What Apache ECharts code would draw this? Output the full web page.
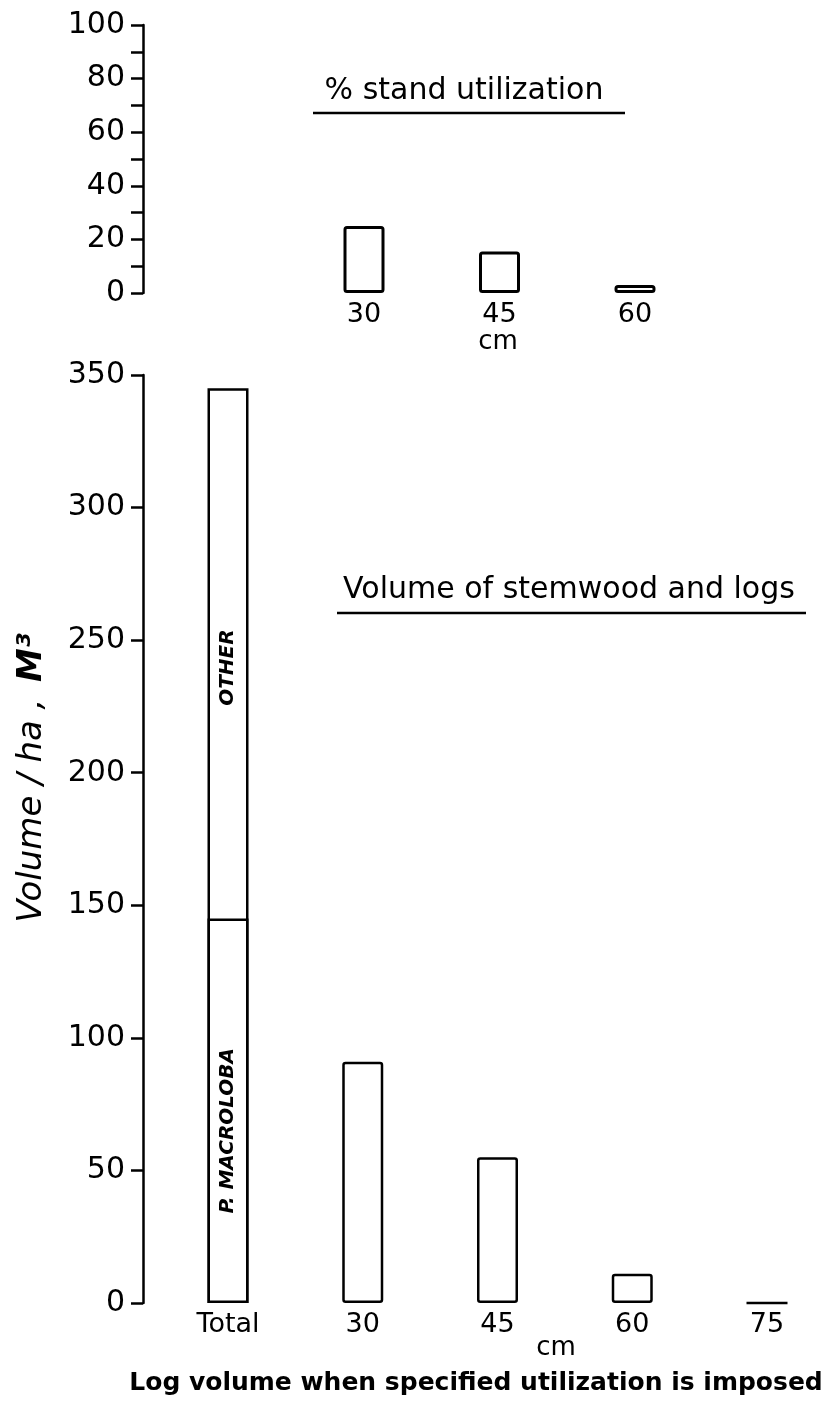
<!DOCTYPE html>
<html>
<head>
<meta charset="utf-8">
<script src="https://cdn.jsdelivr.net/npm/echarts@6/dist/echarts.min.js"></script>
<style>
  html, body { margin: 0; padding: 0; background: #fff; }
  #chart { width: 830px; height: 1401px; }
</style>
</head>
<body>
<div id="chart"></div>
<script>
// Upper panel: share of the stand used at each minimum log diameter
const utilCats = ['30', '45', '60'];
const utilPct = [25, 15.5, 3];
const utilTicks = [0, 20, 40, 60, 80, 100];

// Lower panel: volume per hectare, total stand and logs by diameter limit
const volCats = ['Total', '30', '45', '60', '75'];
const volMacroloba = [145, '-', '-', '-', '-'];
const volOther = [200, '-', '-', '-', '-'];
const volLogs = ['-', 91, 55, 11, 0];
const volTicks = [0, 50, 100, 150, 200, 250, 300, 350];

// Whole-stand column: P. macroloba plus other species
const volStand = volMacroloba.map((v, i) => (v === '-' ? '-' : v + volOther[i]));

const FONT = 'DejaVu Sans';
const INK = '#000';

function yAxisFor(grid, ticks, offset, minor) {
  return {
    type: 'value',
    gridIndex: grid,
    min: ticks[0],
    max: ticks[ticks.length - 1],
    interval: ticks[1] - ticks[0],
    offset: offset,
    axisLine: { show: true, lineStyle: { color: INK, width: 2.5 } },
    axisTick: { show: true, length: 12, lineStyle: { color: INK, width: 2.5 } },
    minorTick: { show: minor, splitNumber: 2, length: 12, lineStyle: { color: INK, width: 2.5 } },
    splitLine: { show: false },
    minorSplitLine: { show: false },
    axisLabel: { color: INK, fontFamily: FONT, fontSize: 30, margin: 18 }
  };
}

function xAxisFor(grid, cats) {
  return {
    type: 'category',
    gridIndex: grid,
    data: cats,
    boundaryGap: false,
    axisLine: { show: false },
    axisTick: { show: false },
    splitLine: { show: false },
    axisLabel: { color: INK, fontFamily: FONT, fontSize: 27, margin: 8, interval: 0 }
  };
}

const barStyle = { color: '#fff', borderColor: INK, borderWidth: 2.5, borderRadius: 2 };
const stackStyle = { color: '#fff', borderColor: INK, borderWidth: 2.5, borderRadius: 0 };
// rotated labels: offset is in the label's own (rotated) frame, so +x moves it up the bar
const tagLabel = (text, up) => ({
  show: true,
  formatter: text,
  position: 'inside',
  rotate: 90,
  offset: [up, 0],
  color: INK,
  fontFamily: FONT,
  fontWeight: 'bold',
  fontStyle: 'italic',
  fontSize: 20
});

const chart = echarts.init(document.getElementById('chart'), null, { renderer: 'canvas' });
chart.setOption({
  animation: false,
  backgroundColor: '#fff',
  grid: [
    { left: 364, right: 195, top: 25, height: 268 },
    { left: 228, right: 63, top: 375, height: 928 }
  ],
  xAxis: [xAxisFor(0, utilCats), xAxisFor(1, volCats)],
  yAxis: [yAxisFor(0, utilTicks, 221, true), yAxisFor(1, volTicks, 85, false)],
  series: [
    {
      name: '% stand utilization', type: 'bar', xAxisIndex: 0, yAxisIndex: 0,
      data: utilPct, barWidth: 41, itemStyle: Object.assign({}, barStyle, { borderWidth: 3 }),
      silent: true
    },
    {
      // full stand column, OTHER occupies the part above P. macroloba
      name: 'OTHER', type: 'bar', xAxisIndex: 1, yAxisIndex: 1,
      data: volStand, barWidth: 41, barGap: '-100%', itemStyle: stackStyle,
      label: tagLabel('OTHER', 178), silent: true, z: 2
    },
    {
      name: 'P. MACROLOBA', type: 'bar', xAxisIndex: 1, yAxisIndex: 1,
      data: volMacroloba, barWidth: 41, barGap: '-100%', itemStyle: stackStyle,
      label: tagLabel('P. MACROLOBA', -20), silent: true, z: 3
    },
    {
      name: 'Logs', type: 'bar', xAxisIndex: 1, yAxisIndex: 1,
      data: volLogs, barWidth: 41, barGap: '-100%', itemStyle: barStyle, silent: true, z: 3
    }
  ],
  graphic: [
    { type: 'text', x: 464, y: 91, style: { text: '% stand utilization', fill: INK, font: '30px "DejaVu Sans"', textAlign: 'center', textVerticalAlign: 'middle' } },
    { type: 'line', shape: { x1: 313, y1: 113, x2: 625, y2: 113 }, style: { stroke: INK, lineWidth: 2.5 } },
    { type: 'text', x: 498, y: 342, style: { text: 'cm', fill: INK, font: '26px "DejaVu Sans"', textAlign: 'center', textVerticalAlign: 'middle' } },

    { type: 'text', x: 569, y: 590, style: { text: 'Volume of stemwood and logs', fill: INK, font: '30px "DejaVu Sans"', textAlign: 'center', textVerticalAlign: 'middle' } },
    { type: 'line', shape: { x1: 337, y1: 613, x2: 806, y2: 613 }, style: { stroke: INK, lineWidth: 2.5 } },
    { type: 'text', x: 556, y: 1348, style: { text: 'cm', fill: INK, font: '26px "DejaVu Sans"', textAlign: 'center', textVerticalAlign: 'middle' } },
    { type: 'text', x: 476, y: 1383, style: { text: 'Log volume when specified utilization is imposed', fill: INK, font: 'bold 25px "DejaVu Sans"', textAlign: 'center', textVerticalAlign: 'middle' } },

    {
      type: 'text', x: 32, y: 778, rotation: Math.PI / 2,
      style: {
        text: '{v|Volume / ha ,}     {m|M³}',
        textAlign: 'center', textVerticalAlign: 'middle',
        rich: {
          v: { fill: INK, fontFamily: FONT, fontStyle: 'italic', fontSize: 34 },
          m: { fill: INK, fontFamily: FONT, fontStyle: 'italic', fontWeight: 'bold', fontSize: 34 }
        }
      }
    }
  ]
});
</script>
</body>
</html>
